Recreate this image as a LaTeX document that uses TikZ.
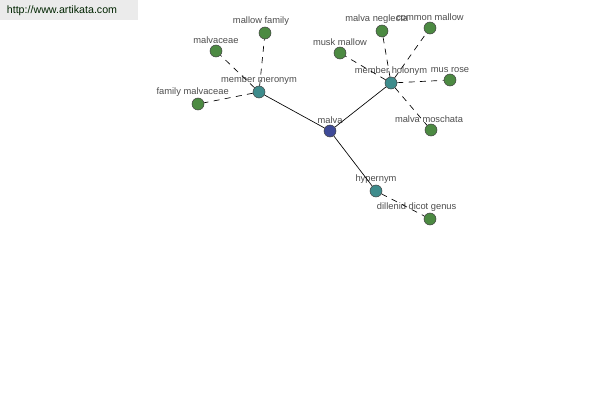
\documentclass[tikz,border=0pt]{standalone}
\usepackage{fontspec}
\setmainfont{Liberation Sans}
\usepackage{xcolor}
\usepackage{tikz}

\definecolor{wordgreen}{RGB}{76,138,66}
\definecolor{wordteal}{RGB}{62,140,140}
\definecolor{wordblue}{RGB}{62,74,152}

\begin{document}
\begin{tikzpicture}[x=0.75pt,y=-0.75pt,font=\fontsize{7}{8}\selectfont,text=black!70]
      \tikzstyle{every word}=[circle,draw=black!75,minimum size=9pt,inner sep=0pt]
      \tikzstyle{leaf}=[every word,fill=wordgreen]
      \tikzstyle{relation}=[every word,fill=wordteal]
      \tikzstyle{every label}=[inner sep=0.5pt]
      \tikzstyle{link}=[draw=black,line width=0.5pt,dash pattern=on 4.5pt off 4pt]
      \useasboundingbox (0,0) rectangle (600,400);

      % Site banner
      \fill[black!8] (0,0) rectangle (138,20);
      \node[font=\fontsize{8}{9}\selectfont,text=black!65!green!40!black] (site) at (62,11) {http://www.artikata.com};

      % Center word
      \node[every word,fill=wordblue,label=above:malva] (malva) at (330,131) {};

      % Relation nodes
      \node[relation,label=above:member meronym] (meronym) at (259,92) {};
      \node[relation,label=above:member holonym] (holonym) at (391,83) {};
      \node[relation,label=above:hypernym] (hypernym) at (376,191) {};

      % Leaves of member meronym
      \node[leaf,label={[xshift=-3pt]above:mallow family}] (mallowfamily) at (265,33) {};
      \node[leaf,label=above:malvaceae] (malvaceae) at (216,51) {};
      \node[leaf,label={[xshift=-4pt]above:family malvaceae}] (familymalvaceae) at (198,104) {};

      % Leaves of member holonym
      \node[leaf,label={[xshift=-4pt]above:malva neglecta}] (neglecta) at (382,31) {};
      \node[leaf,label=above:common mallow] (commonmallow) at (430,28) {};
      \node[leaf,label=above:musk mallow] (muskmallow) at (340,53) {};
      \node[leaf,label=above:mus rose] (musrose) at (450,80) {};
      \node[leaf,label={[xshift=-1.5pt]above:malva moschata}] (moschata) at (431,130) {};

      % Leaf of hypernym
      \node[leaf,label={[xshift=-10pt]above:dillenid dicot genus}] (dillenid) at (430,219) {};

      % Connections: center to relations
      \foreach \r in {meronym,holonym,hypernym}
        \draw[line width=0.5pt] (malva) -- (\r);

      % Connections: relations to leaves
      \foreach \w in {mallowfamily,malvaceae,familymalvaceae}
        \draw[link] (meronym) -- (\w);
      \foreach \w in {neglecta,commonmallow,muskmallow,musrose,moschata}
        \draw[link] (holonym) -- (\w);
      \draw[link] (hypernym) -- (dillenid);
\end{tikzpicture}
\end{document}
